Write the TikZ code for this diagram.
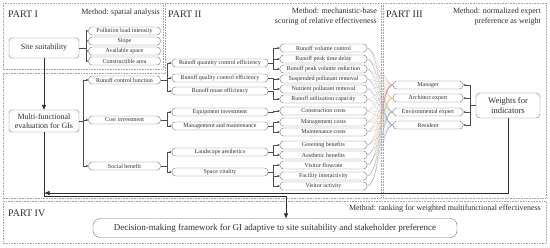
\documentclass[tikz,border=0pt]{standalone}
\usepackage{fontspec}
\setmainfont{Liberation Serif}
\usetikzlibrary{arrows.meta, positioning, calc}
\definecolor{FrameGray}{RGB}{165,165,165}
\definecolor{BoxGray}{RGB}{115,115,115}
\definecolor{InkGray}{RGB}{45,45,45}
\definecolor{ManagerRed}{RGB}{215,130,145}
\definecolor{ArchitectYellow}{RGB}{215,190,120}
\definecolor{EnvGreen}{RGB}{130,175,150}
\definecolor{ResidentBlue}{RGB}{130,150,200}

\begin{document}
\begin{tikzpicture}[x=1pt, y=-1pt,
        every node/.style={text=InkGray},
        frame/.style={draw=FrameGray, densely dotted, line width=0.6pt},
        parttitle/.style={font=\fontsize{10}{12}\selectfont, anchor=west, inner sep=0pt},
        method/.style={font=\fontsize{8}{10}\selectfont, align=right, inner sep=0pt},
        mainbox/.style={draw=BoxGray, rounded corners=3pt, align=center,
                    font=\fontsize{8}{9.5}\selectfont, minimum width=70pt, inner sep=1pt},
        item/.style={draw=BoxGray, rounded corners=3.5pt, font=\fontsize{6}{7}\selectfont,
                    minimum height=8pt, inner sep=0pt},
        lvlone/.style={item, minimum width=72pt},
        lvltwo/.style={item, minimum width=96pt},
        lvlthree/.style={item, minimum width=87pt},
        stake/.style={item, minimum width=70pt},
        branch/.style={draw=InkGray!85, line width=0.4pt, -{Triangle[length=2.2pt, width=2pt]}},
        mainarrow/.style={draw=InkGray, line width=0.9pt, -{Triangle[length=5pt, width=4pt]}},
        fanline/.style={line width=0.2pt, opacity=0.6}
    ]
        \useasboundingbox (0,0) rectangle (550,247);

        % part frames
        \draw[frame] (3,3) rectangle (163,69);
        \draw[frame] (165,3) -- (381,3) -- (381,198) -- (3,198) -- (3,73) -- (165,73) -- cycle;
        \draw[frame] (383,3) rectangle (546,198);
        \draw[frame] (3,201) rectangle (546,243);

        \node[parttitle] (titleI) at (8,14) {PART I};
        \node[method, anchor=east] (methodI) at (160,13) {Method: spatial analysis};
        \node[parttitle] (titleII) at (168,14) {PART II};
        \node[method, anchor=north east] (methodII) at (377,8) {Method: mechanistic-base\\scoring of relative effectiveness};
        \node[parttitle] (titleIII) at (386,14) {PART III};
        \node[method, anchor=north east] (methodIII) at (541,8) {Method: normalized expert\\preference as weight};
        \node[parttitle] (titleIV) at (8,213) {PART IV};
        \node[method, anchor=east] (methodIV) at (541,209) {Method: ranking for weighted multifunctional effectiveness};

        % PART I
        \node[mainbox, minimum height=20pt] (site) at (44,48) {Site suitability};
        \node[lvlone] (pollution) at (124.5,31) {Pollution load intensity};
        \node[lvlone] (slope) at (124.5,41) {Slope};
        \node[lvlone] (space) at (124.5,51) {Available space};
        \node[lvlone] (constructible) at (124.5,61) {Constructible area};
        \foreach \c in {pollution, slope, space, constructible}
            \draw[branch] (site.east) -- ++(7,0) |- (\c.west);

        % PART II
        \node[mainbox, minimum height=22pt] (multi) at (44,121) {Multi-functional\\evaluation for GIs};
        \node[lvlone] (runoff) at (124.5,80) {Runoff control function};
        \node[lvlone] (cost) at (124.5,120) {Cost investment};
        \node[lvlone] (social) at (124.5,166) {Social benefit};
        \foreach \c in {runoff, cost, social}
            \draw[branch] (multi.east) -- ++(4,0) |- (\c.west);

        \node[lvltwo] (quantity) at (220,63) {Runoff quantity control efficiency};
        \node[lvltwo] (quality) at (220,78) {Runoff quality control efficiency};
        \node[lvltwo] (reuse) at (220,91) {Runoff reuse efficiency};
        \node[lvltwo] (equipment) at (220,112) {Equipment investment};
        \node[lvltwo] (management) at (220,126) {Management and maintenance};
        \node[lvltwo] (landscape) at (220,152) {Landscape aesthetics};
        \node[lvltwo] (vitality) at (220,172) {Space vitality};
        \foreach \p/\c in {runoff/quantity, runoff/quality, runoff/reuse,
                           cost/equipment, cost/management,
                           social/landscape, social/vitality}
            \draw[branch] (\p.east) -- ++(6,0) |- (\c.west);

        \node[lvlthree] (volume) at (323.5,48) {Runoff volume control};
        \node[lvlthree] (delay) at (323.5,59) {Runoff peak time delay};
        \node[lvlthree] (peak) at (323.5,69) {Runoff peak volume reduction};
        \node[lvlthree] (suspended) at (323.5,79) {Suspended pollutant removal};
        \node[lvlthree] (nutrient) at (323.5,89) {Nutrient pollutant removal};
        \node[lvlthree] (utilization) at (323.5,99) {Runoff utilization capacity};
        \node[lvlthree] (construction) at (323.5,111) {Construction costs};
        \node[lvlthree] (mgmtcost) at (323.5,122) {Management costs};
        \node[lvlthree] (maintenance) at (323.5,132) {Maintenance costs};
        \node[lvlthree] (greening) at (323.5,145) {Greening benefits};
        \node[lvlthree] (aesthetic) at (323.5,155) {Aesthetic benefits};
        \node[lvlthree] (flowrate) at (323.5,165) {Visitor flowrate};
        \node[lvlthree] (facility) at (323.5,176) {Facility interactivity};
        \node[lvlthree] (activity) at (323.5,186) {Visitor activity};
        \foreach \p/\c in {quantity/volume, quantity/delay, quantity/peak,
                           quality/suspended, quality/nutrient, reuse/utilization,
                           equipment/construction, management/mgmtcost, management/maintenance,
                           landscape/greening, landscape/aesthetic,
                           vitality/flowrate, vitality/facility, vitality/activity}
            \draw[branch] (\p.east) -- ++(5,0) |- (\c.west);

        % PART III
        \node[stake] (manager) at (428,85) {Manager};
        \node[stake] (architect) at (428,98) {Architect expert};
        \node[stake] (envexpert) at (428,112) {Environmental expert};
        \node[stake] (resident) at (428,125) {Resident};
        \node[mainbox, font=\fontsize{8.5}{10}\selectfont, minimum width=64pt, minimum height=25pt,
              rounded corners=4pt] (weights) at (508,105.5) {Weights for\\indicators};
        \foreach \c in {manager, architect, envexpert, resident}
            \draw[branch] (weights.west) -- ++(-6,0) |- (\c.east);

        % indicators to stakeholders
        \foreach \i in {volume, delay, peak, suspended, nutrient, utilization, construction,
                        mgmtcost, maintenance, greening, aesthetic, flowrate, facility, activity}
            \foreach \s/\col in {manager/ManagerRed, architect/ArchitectYellow,
                                 envexpert/EnvGreen, resident/ResidentBlue}
                \draw[fanline, \col] (\i.east) to[out=0, in=180, looseness=0.4] (\s.west);

        % PART IV
        \node[draw=BoxGray, rounded corners=7pt, font=\fontsize{9}{11}\selectfont,
              minimum width=364pt, minimum height=19pt, inner sep=1pt] (decision) at (275,228)
              {Decision-making framework for GI adaptive to site suitability and stakeholder preference};

        \draw[mainarrow] (site) -- (multi);
        \coordinate (turn) at (286,196);
        \coordinate (wjoin) at (44.6,193);
        \draw[mainarrow] (multi.south) |- (turn) -- (decision.north -| turn);
        \draw[mainarrow] (weights.south) |- (wjoin);
    \end{tikzpicture}
\end{document}
